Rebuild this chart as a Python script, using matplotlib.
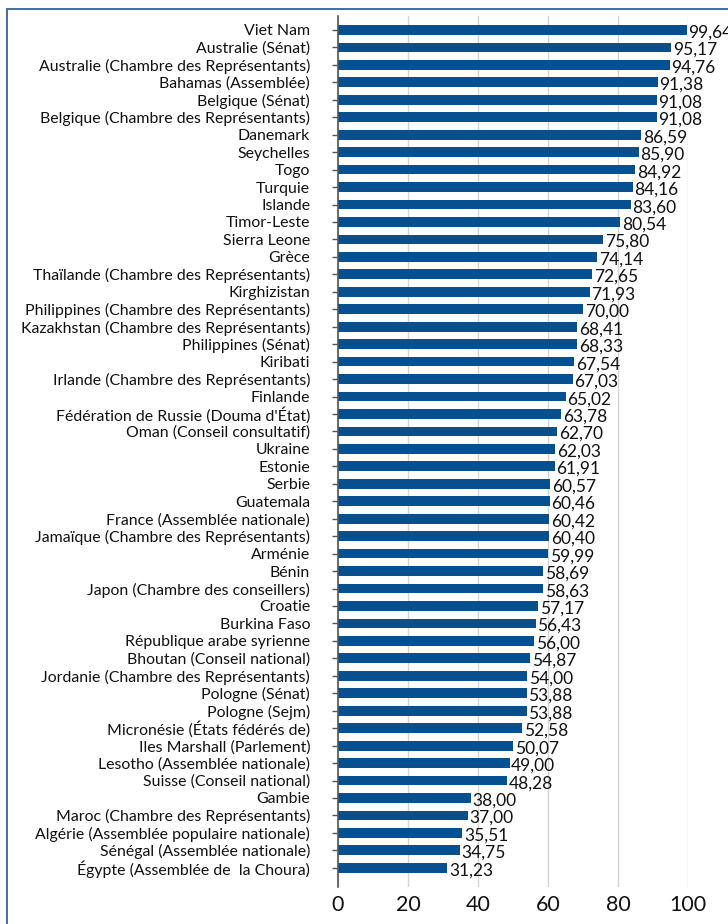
import matplotlib.pyplot as plt
from matplotlib.patches import Rectangle

plt.rcParams['font.family'] = ['Lato', 'DejaVu Sans']

# Chart data
countries = [
    "Viet Nam", "Australie (Sénat)", "Australie (Chambre des Représentants)",
    "Bahamas (Assemblée)", "Belgique (Sénat)", "Belgique (Chambre des Représentants)",
    "Danemark", "Seychelles", "Togo", "Turquie", "Islande", "Timor-Leste",
    "Sierra Leone", "Grèce", "Thaïlande (Chambre des Représentants)", "Kirghizistan",
    "Philippines (Chambre des Représentants)", "Kazakhstan (Chambre des Représentants)",
    "Philippines (Sénat)", "Kiribati", "Irlande (Chambre des Représentants)", "Finlande",
    "Fédération de Russie (Douma d'État)", "Oman (Conseil consultatif)", "Ukraine",
    "Estonie", "Serbie", "Guatemala", "France (Assemblée nationale)",
    "Jamaïque (Chambre des Représentants)", "Arménie", "Bénin",
    "Japon (Chambre des conseillers)", "Croatie", "Burkina Faso",
    "République arabe syrienne", "Bhoutan (Conseil national)",
    "Jordanie (Chambre des Représentants)", "Pologne (Sénat)", "Pologne (Sejm)",
    "Micronésie (États fédérés de)", "Iles Marshall (Parlement)",
    "Lesotho (Assemblée nationale)", "Suisse (Conseil national)", "Gambie",
    "Maroc (Chambre des Représentants)", "Algérie (Assemblée populaire nationale)",
    "Sénégal (Assemblée nationale)", "Égypte (Assemblée de  la Choura)",
]
values = [
    99.64, 95.17, 94.76, 91.38, 91.08, 91.08, 86.59, 85.90, 84.92, 84.16, 83.60,
    80.54, 75.80, 74.14, 72.65, 71.93, 70.00, 68.41, 68.33, 67.54, 67.03, 65.02,
    63.78, 62.70, 62.03, 61.91, 60.57, 60.46, 60.42, 60.40, 59.99, 58.69, 58.63,
    57.17, 56.43, 56.00, 54.87, 54.00, 53.88, 53.88, 52.58, 50.07, 49.00, 48.28,
    38.00, 37.00, 35.51, 34.75, 31.23,
]
x_ticks = [0, 20, 40, 60, 80, 100]

W, H = 728, 924
fig = plt.figure(figsize=(W / 100, H / 100), dpi=100)
ax = fig.add_axes([338 / W, 1 - 887 / H, 350 / W, (887 - 16) / H])

pos = list(range(len(values)))
ax.barh(pos, values, height=0.56, color='#07508f', zorder=3)
for p, v in zip(pos, values):
    ax.text(v + 0.5, p + 0.15, f"{v:.2f}".replace('.', ','), va='center', ha='left',
            fontsize=12.5, color='#111111', clip_on=False, zorder=4)

ax.set_xlim(0, 100)
ax.set_ylim(len(values) - 1 + 1.1, -0.8)
ax.set_yticks(pos)
ax.set_yticklabels(countries, fontsize=11.4, color='#111111')
ax.set_xticks(x_ticks)
ax.set_xticklabels([str(t) for t in x_ticks], fontsize=15.5, color='#111111')
ax.tick_params(axis='y', length=4, width=1, color='#555555', pad=16)
ax.tick_params(axis='x', length=0, pad=6)
ax.grid(axis='x', color='#d4d4d4', linewidth=1, zorder=0)
for s in ['top', 'right', 'bottom']:
    ax.spines[s].set_visible(False)
ax.spines['left'].set_color('#555555')
ax.spines['left'].set_linewidth(1.2)
ax.spines['left'].set_zorder(5)

# frame around the chart (cut off at right and bottom)
fig.patches.append(Rectangle((7 / W, -0.05), 1.1, 1 - 9 / H + 0.05, transform=fig.transFigure,
                             fill=False, edgecolor='#2f63a0', linewidth=1.3))

fig.savefig('out.png', dpi=100)
